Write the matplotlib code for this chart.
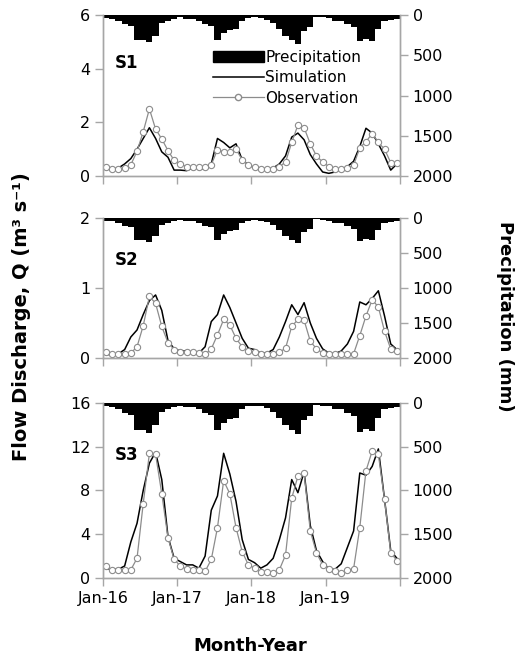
import matplotlib
matplotlib.use("Agg")
import matplotlib.pyplot as plt
from matplotlib.patches import Patch
from matplotlib.lines import Line2D

plt.rcParams['font.family'] = ['DejaVu Sans']

# monthly precipitation (mm), Jan-2016 .. Dec-2019
precip = [37, 46, 70, 112, 132, 311, 311, 340, 257, 104, 70, 50,
          29, 50, 50, 70, 112, 132, 311, 228, 186, 174, 70, 37,
          29, 37, 62, 104, 174, 257, 311, 360, 195, 153, 21, 29,
          37, 70, 70, 112, 153, 327, 298, 319, 174, 70, 62, 50]

# station S1 (m3/s)
s1_sim = [0.3, 0.25, 0.3, 0.45, 0.65, 1.0, 1.4, 1.8, 1.4, 0.9, 0.7, 0.22,
          0.22, 0.2, 0.3, 0.3, 0.25, 0.45, 1.4, 1.25, 1.05, 1.2, 0.6, 0.42,
          0.3, 0.3, 0.25, 0.3, 0.45, 0.75, 1.45, 1.6, 1.35, 0.8, 0.45, 0.15,
          0.1, 0.15, 0.25, 0.35, 0.55, 1.1, 1.78, 1.6, 1.2, 0.75, 0.22, 0.45]
s1_obs = [0.35, 0.27, 0.27, 0.3, 0.42, 0.92, 1.65, 2.5, 1.75, 1.38, 0.95, 0.58,
          0.45, 0.35, 0.35, 0.35, 0.35, 0.42, 0.98, 0.9, 0.9, 1.0, 0.6, 0.42,
          0.32, 0.27, 0.25, 0.25, 0.35, 0.52, 1.25, 1.9, 1.8, 1.2, 0.75, 0.52,
          0.35, 0.25, 0.27, 0.3, 0.4, 1.05, 1.28, 1.58, 1.25, 1.0, 0.5, 0.5]

# station S2
s2_sim = [0.05, 0.05, 0.06, 0.12, 0.3, 0.4, 0.62, 0.82, 0.9, 0.68, 0.25, 0.13,
          0.1, 0.1, 0.08, 0.07, 0.16, 0.52, 0.62, 0.9, 0.72, 0.5, 0.28, 0.14,
          0.12, 0.07, 0.07, 0.12, 0.3, 0.52, 0.76, 0.62, 0.79, 0.5, 0.28, 0.13,
          0.07, 0.06, 0.1, 0.2, 0.38, 0.8, 0.76, 0.85, 0.96, 0.6, 0.2, 0.12]
s2_obs = [0.08, 0.06, 0.06, 0.06, 0.07, 0.16, 0.46, 0.88, 0.78, 0.45, 0.22, 0.12,
          0.09, 0.08, 0.08, 0.07, 0.05, 0.13, 0.33, 0.55, 0.47, 0.28, 0.16, 0.1,
          0.08, 0.05, 0.05, 0.06, 0.08, 0.14, 0.45, 0.55, 0.54, 0.24, 0.13, 0.07,
          0.05, 0.05, 0.05, 0.05, 0.06, 0.32, 0.6, 0.83, 0.73, 0.38, 0.13, 0.1]

# station S3
s3_sim = [0.85, 0.8, 0.8, 1.1, 3.3, 5.0, 8.0, 10.5, 11.5, 9.0, 3.8, 1.8,
          1.5, 1.2, 1.2, 0.9, 2.0, 6.2, 7.5, 11.4, 9.5, 7.0, 3.5, 1.7,
          1.4, 0.9, 1.2, 1.8, 3.5, 5.5, 9.0, 7.8, 9.7, 4.8, 2.5, 1.5,
          0.8, 0.8, 1.3, 2.8, 4.3, 9.6, 9.4, 10.2, 11.8, 7.2, 2.5, 1.8]
s3_obs = [1.1, 0.7, 0.7, 0.7, 0.75, 1.8, 6.8, 11.4, 11.3, 7.7, 3.7, 1.7,
          1.1, 0.8, 0.7, 0.7, 0.6, 1.7, 4.6, 8.9, 7.7, 4.6, 2.4, 1.2,
          0.9, 0.55, 0.55, 0.5, 0.75, 2.1, 7.3, 9.3, 9.6, 4.3, 2.3, 1.2,
          0.8, 0.65, 0.5, 0.7, 0.85, 4.6, 9.8, 11.6, 11.3, 7.2, 2.3, 1.6]

stations = ['S1', 'S2', 'S3']
q_max = [6, 2, 16]
q_ticks = [[0, 2, 4, 6], [0, 1, 2], [0, 4, 8, 12, 16]]
year_labels = ['Jan-16', 'Jan-17', 'Jan-18', 'Jan-19', '']

sims = [s1_sim, s2_sim, s3_sim]
obss = [s1_obs, s2_obs, s3_obs]

# axes boxes in figure fraction [left, bottom, width, height]
boxes = [[0.1973, 0.7329, 0.569, 0.2443],
         [0.1973, 0.4568, 0.569, 0.2124],
         [0.1973, 0.1229, 0.569, 0.2656]]

grey = '#a6a6a6'
obs_col = '#8c8c8c'

fig = plt.figure(figsize=(5.22, 6.59), dpi=100)
months = [i + 0.5 for i in range(48)]

for k in range(3):
    ax = fig.add_axes(boxes[k])
    ax2 = ax.twinx()

    # precipitation hangs from the top on an inverted right axis
    ax2.bar(months, precip, width=1.0, color='black', linewidth=0)
    ax2.set_ylim(2000, 0)
    ax2.set_yticks([0, 500, 1000, 1500, 2000])

    ax.plot(months, sims[k], color='black', lw=1.1)
    ax.plot(months, obss[k], color=obs_col, lw=0.9, marker='o', ms=4.5,
            mfc='white', mec=obs_col, mew=0.8)
    ax.set_ylim(0, q_max[k])
    ax.set_yticks(q_ticks[k])
    ax.set_xlim(0, 48)
    ax.set_xticks([0, 12, 24, 36, 48])
    if k == 2:
        ax.set_xticklabels(year_labels)
    else:
        ax.set_xticklabels([])

    ax.set_zorder(ax2.get_zorder() + 1)
    ax.patch.set_visible(False)

    for a in (ax, ax2):
        a.spines['top'].set_visible(False)
        for s in ('left', 'right', 'bottom'):
            a.spines[s].set_color(grey)
            a.spines[s].set_linewidth(1.0)
        a.tick_params(colors=grey, labelcolor='black', labelsize=11.5,
                      length=6, width=1.0, direction='out', pad=3)

    ax.text(0.04, 0.70, stations[k], transform=ax.transAxes, fontsize=12,
            fontweight='bold', ha='left', va='center')

    if k == 0:
        handles = [Patch(facecolor='black', edgecolor='black'),
                   Line2D([], [], color='black', lw=1.1),
                   Line2D([], [], color=obs_col, lw=0.9, marker='o', ms=4.5,
                          mfc='white', mec=obs_col)]
        ax.legend(handles, ['Precipitation', 'Simulation', 'Observation'],
                  loc='upper left', bbox_to_anchor=(0.345, 0.83), frameon=False,
                  fontsize=11, handlelength=3.3, handleheight=0.75,
                  labelspacing=0.35, handletextpad=0.1, borderpad=0)

fig.text(0.042, 0.52, 'Flow Discharge, Q (m³ s⁻¹)', rotation=90,
         fontsize=14, fontweight='bold', ha='center', va='center')
fig.text(0.967, 0.52, 'Precipitation (mm)', rotation=270,
         fontsize=13, fontweight='bold', ha='center', va='center')
fig.text(0.48, 0.02, 'Month-Year', fontsize=13, fontweight='bold',
         ha='center', va='center')

fig.savefig('out.png', dpi=100)
